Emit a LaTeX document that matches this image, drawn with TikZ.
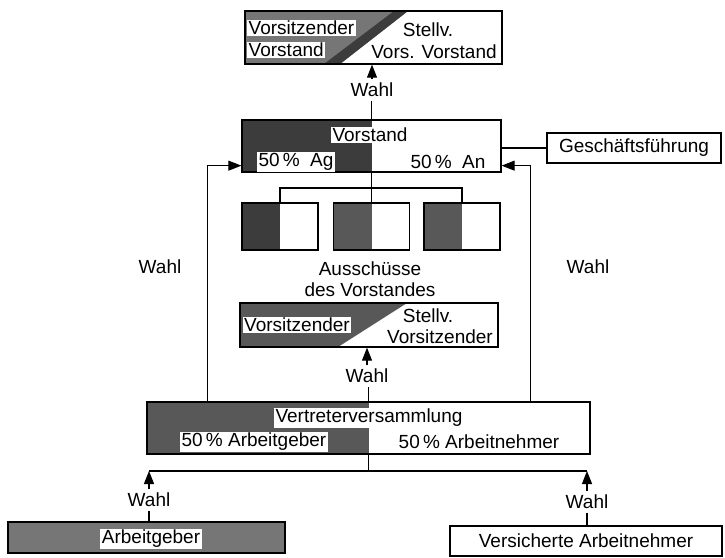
\documentclass[tikz,border=0pt]{standalone}
\usepackage{fontspec}
\setmainfont{Liberation Sans}
\usetikzlibrary{arrows.meta,backgrounds}
\definecolor{Black75}{RGB}{60, 60, 60}
\definecolor{Black60}{RGB}{88, 88, 88}
\definecolor{Black45}{RGB}{118, 118, 118}

\tikzset{
    kasten/.style={draw, line width=1.3pt, inner sep=0pt},
    etikett/.style={fill=white, inner sep=1.5pt},
    pfeil/.style={line width=1.1pt, -{Triangle[width=10pt,length=13pt]}},
    linie/.style={line width=1.1pt}
}

\begin{document}
\begin{tikzpicture}[x=1pt, y=-1pt, font=\fontsize{19}{21}\selectfont]
\useasboundingbox (0,0) rectangle (725,557);

% Spitze: Vorsitzender / Stellv.
\node[kasten, minimum width=257pt, minimum height=53pt] (spitze) at (373.5,37.5) {};
\node[etikett, anchor=west] (spitzeL1) at (247,28) {Vorsitzender};
\node[etikett, anchor=west] (spitzeL2) at (247,50) {Vorstand};
\node (spitzeR1) at (428,30) {Stellv.};
\node (spitzeR2) at (434,52) {Vors. Vorstand};
\node (wahl1) at (372,90) {Wahl};

% Vorstand
\node[kasten, minimum width=259pt, minimum height=52pt] (vorstand) at (371.5,146) {};
\node[etikett] (vorstandT) at (370,135) {Vorstand};
\node[etikett] (vorstandAg) at (296,162) {50\,\%\ \ Ag};
\node (vorstandAn) at (448,162) {50\,\%\ \ An};
\node[kasten, minimum width=174pt, minimum height=30pt] (gf) at (634,148) {Geschäftsführung};

% Ausschuesse
\node[kasten, minimum width=76pt, minimum height=47pt] (aus1) at (280,226.5) {};
\node[kasten, minimum width=76pt, minimum height=47pt] (aus2) at (371.5,226.5) {};
\node[kasten, minimum width=76pt, minimum height=47pt] (aus3) at (462,226.5) {};
\coordinate (verteiler) at (371.5,188);
\node[align=center] (ausschuesse) at (370,279) {Ausschüsse\\des Vorstandes};

% Vorsitz der Ausschuesse
\node[kasten, minimum width=258pt, minimum height=44pt] (avors) at (369,325) {};
\node[etikett] (avorsL) at (297,325) {Vorsitzender};
\node (avorsR1) at (428,316) {Stellv.};
\node (avorsR2) at (440,337) {Vorsitzender};
\node (wahl2) at (367,376) {Wahl};

% Vertreterversammlung
\node[kasten, minimum width=443pt, minimum height=52pt] (vv) at (368.5,428) {};
\node[etikett] (vvT) at (369,418) {Vertreterversammlung};
\node[etikett] (vvAg) at (254,442) {50\,\% Arbeitgeber};
\node (vvAn) at (479,442) {50\,\% Arbeitnehmer};
\node (wahlL) at (160,267) {Wahl};
\node (wahlR) at (588,267) {Wahl};

% Basis
\coordinate (gabel) at (368.5,471);
\node (wahl3) at (149,500) {Wahl};
\node (wahl4) at (587,502) {Wahl};
\node[kasten, minimum width=277pt, minimum height=31pt] (ag) at (146.5,537.5) {};
\node[etikett] (agT) at (151,539) {Arbeitgeber};
\node[kasten, minimum width=272pt, minimum height=30pt] (an) at (586,541) {Versicherte Arbeitnehmer};

% Raster
\begin{scope}[on background layer]
    \fill[Black45] (spitze.north west) -- (408,11) -- (340,64) -- (spitze.south west) -- cycle;
    \fill[Black75] (394,11) -- (408,11) -- (340,64) -- (324,64) -- cycle;
    \fill[Black75] (vorstand.north west) rectangle (vorstand.south);
    \fill[Black75] (aus1.north west) rectangle (aus1.south);
    \fill[Black60] (aus2.north west) rectangle (aus2.south);
    \fill[Black60] (aus3.north west) rectangle (aus3.south);
    \fill[Black60] (avors.north west) -- (407,303) -- (338,347) -- (avors.south west) -- cycle;
    \fill[Black60] (vv.north west) rectangle (vv.south);
    \fill[Black45] (ag.north west) rectangle (ag.south east);
\end{scope}

% Verbindungen
\draw[pfeil] (wahl1.north) -- (wahl1.north |- spitze.south);
\draw[linie] (vorstand.north) -- (vorstand.north |- wahl1.south);
\draw[linie] (vorstand.east |- gf.west) -- (gf.west);
\draw[linie] (vorstand.south) -- (verteiler);
\draw[linie] (aus1.north) |- (verteiler) -| (aus3.north);
\draw[linie] (verteiler) -- (aus2.north);
\draw[pfeil] (wahl2.north) -- (wahl2.north |- avors.south);
\draw[linie] (vv.north) -- (vv.north |- wahl2.south);
\draw[pfeil] ([xshift=61pt]vv.north west) |- ([yshift=7pt]vorstand.south west);
\draw[pfeil] ([xshift=-60pt]vv.north east) |- ([yshift=7pt]vorstand.south east);
\draw[linie] (vv.south) -- (gabel);
\draw[linie] (wahl3.north |- gabel) -- (wahl4.north |- gabel);
\draw[pfeil] (wahl3.north) -- (wahl3.north |- gabel);
\draw[pfeil] (wahl4.north) -- (wahl4.north |- gabel);
\draw[linie] (wahl3.south) -- (wahl3.south |- ag.north);
\draw[linie] (wahl4.south) -- (wahl4.south |- an.north);

\end{tikzpicture}
\end{document}
